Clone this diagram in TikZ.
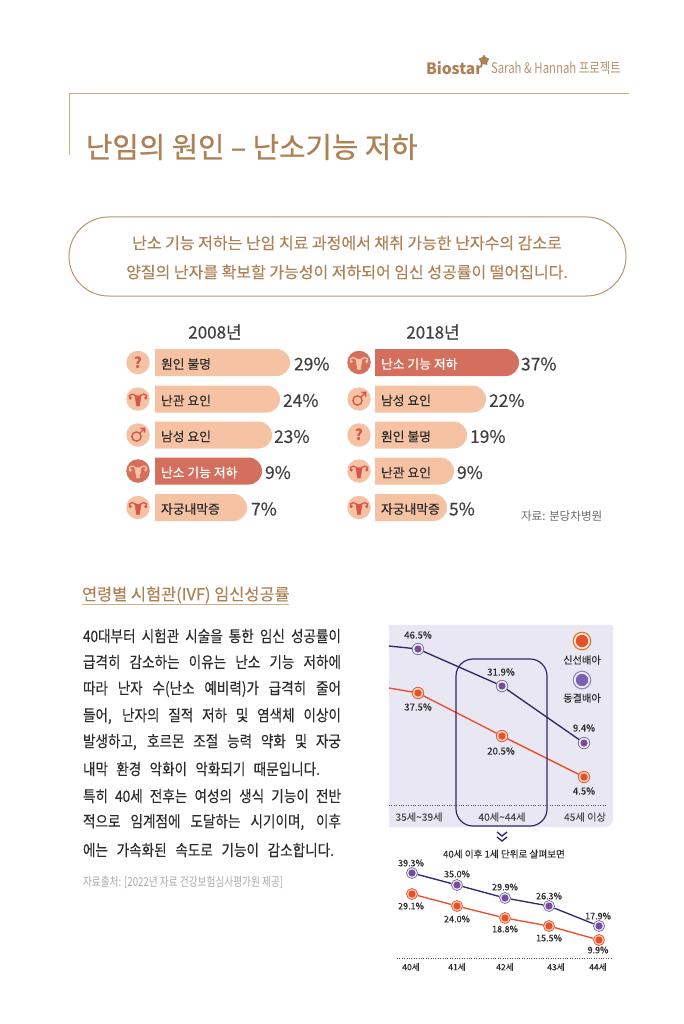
\documentclass[tikz,border=0pt]{standalone}
\usepackage{fontspec}
\setmainfont{Noto Sans CJK KR}
\newfontfamily\kmed[FakeBold=0.3]{Noto Sans CJK KR}
\newfontfamily\ktitle[FakeBold=0.7]{Noto Sans CJK KR}
\newfontfamily\kval[FakeBold=0.12]{Noto Sans CJK KR}
\newfontfamily\kcond[FakeStretch=0.78]{Noto Sans CJK KR}
\newfontfamily\kbody[FakeStretch=0.86,FakeBold=0.1]{Noto Sans CJK KR}
\usetikzlibrary{shapes.geometric}
\definecolor{gold}{HTML}{AD8154}
\definecolor{goldrule}{HTML}{C9AE86}
\definecolor{peach}{HTML}{F5C3A3}
\definecolor{redbar}{HTML}{D46F5E}
\definecolor{glyph}{HTML}{D9544A}
\definecolor{ink}{HTML}{2C2C2C}
\definecolor{pct}{HTML}{3F3F3F}
\definecolor{panel}{HTML}{E9E7F3}
\definecolor{navy}{HTML}{2E2A6B}
\definecolor{orng}{HTML}{E8502A}
\definecolor{purp}{HTML}{7B4A9E}
\definecolor{lgpurp}{HTML}{7B62B0}
\newcommand{\fs}[1]{\fontsize{#1}{#1}\selectfont}
\tikzset{
  x=1pt,y=-1pt,
  txt/.style={inner sep=0,outer sep=0,text=ink},
  barlabel/.style={txt,anchor=west,yshift=-1.5pt,font=\kmed\fs{12.8}},
  pctlabel/.style={txt,anchor=west,yshift=-1.5pt,text=pct,font=\kmed\fs{17.5}},
  iconbg/.style={circle,minimum size=23.5,inner sep=0,fill=peach},
  iconred/.style={circle,minimum size=23.5,inner sep=0,fill=redbar},
  val/.style={txt,font=\kval\fs{9.6}},
  valsm/.style={txt,font=\kval\fs{9}},
  axis/.style={txt,font=\kval\fs{10.2},text=ink!85},
  axisb/.style={txt,font=\kmed\fs{8.6}},
  body/.style={txt,anchor=west,font=\kbody\fs{15.8}},
  pm/.style={circle,minimum size=11.5,inner sep=0,draw=navy!70,line width=.7,fill=panel!70!white,
    path picture={\fill[purp] (path picture bounding box.center) circle (3.6);}},
  om/.style={circle,minimum size=11.5,inner sep=0,draw=orng,line width=.7,fill=peach!80!white,
    path picture={\fill[orng] (path picture bounding box.center) circle (3.6);}},
  pline/.style={navy,line width=1.35},
  oline/.style={orng,line width=1.35},
  dots/.style={ink!80,line width=.7,dash pattern=on .9pt off 1.5pt},
  uterus/.pic={
    \fill[pic actions] (-3.2,-3.5) -- (3.2,-3.5) .. controls (3.2,.5) and (1.6,2) .. (1.6,7) -- (-1.6,7) .. controls (-1.6,2) and (-3.2,.5) .. (-3.2,-3.5) -- cycle;
    \draw[pic actions,fill=none,line width=1.25] (-2,-3.2) .. controls (-4,-5.3) and (-7.5,-5.6) .. (-8.6,-3.6) .. controls (-9.2,-2.4) .. (-8,-.8);
    \draw[pic actions,fill=none,line width=1.25] (2,-3.2) .. controls (4,-5.3) and (7.5,-5.6) .. (8.6,-3.6) .. controls (9.2,-2.4) .. (8,-.8);
    \fill[pic actions] (-7.8,-1) circle (1.3) (7.8,-1) circle (1.3);
  },
  malesign/.pic={
    \draw[pic actions,fill=none,line width=1.4] (-1.5,1.5) circle (4.6);
    \draw[pic actions,fill=none,line width=1.4] (1.8,-1.8) -- (6.4,-6.4) (2.4,-6.6) -- (6.6,-6.6) -- (6.6,-2.4);
  }
}
% #1 name, #2 y centre, #3 x left, #4 x right, #5 fill
\newcommand{\barshape}[5]{\fill[#5] (#3,#2-13.5) -- (#4-13.5,#2-13.5) arc[start angle=90,end angle=-90,radius=13.5,x radius=13.5,y radius=-13.5] -- (#3,#2+13.5) -- cycle;
  \coordinate (#1) at (#3,#2);}
\begin{document}
\begin{tikzpicture}
\useasboundingbox[fill=white] (0,0) rectangle (683,1024);
% header
\node[txt,anchor=west,text=gold,font=\bfseries\fs{15.6}] (brand) at (426,68) {Biostar};
\node[star,star points=5,star point ratio=1.7,minimum size=12,inner sep=0,fill=gold,rounded corners=.8pt] (flower) at (484,60.5) {};
\node[txt,anchor=west,text=gold!85!white,font=\kcond\fs{14.6}] (proj) at (491,68) {Sarah \& Hannah 프로젝트};
\draw[goldrule,line width=1] (69,155) -- (69,94) -- (629,94);
\node[txt,anchor=west,text=gold,font=\ktitle\fs{28.7}] (title) at (86,147) {난임의 원인 – 난소기능 저하};
\draw[gold!85!white,line width=1] (108.5,217) -- (586.5,217) arc[start angle=90,end angle=-90,radius=39.5,y radius=-39.5] -- (108.5,296) arc[start angle=-90,end angle=-270,radius=39.5,y radius=-39.5] -- cycle;
\node[txt,text=gold,font=\kmed\fs{16}] (lead1) at (347,243) {난소 기능 저하는 난임 치료 과정에서 채취 가능한 난자수의 감소로};
\node[txt,text=gold,font=\kmed\fs{16}] (lead2) at (347,272) {양질의 난자를 확보할 가능성이 저하되어 임신 성공률이 떨어집니다.};
% 2008
\node[txt,text=pct,font=\kmed\fs{17}] (y08) at (215,332) {2008년};
\node[txt,text=pct,font=\kmed\fs{17}] (y18) at (433,332) {2018년};
\barshape{a1}{362.5}{155}{290}{peach}
\barshape{a2}{399}{155}{280}{peach}
\barshape{a3}{435}{155}{272}{peach}
\barshape{a4}{471}{155}{262}{redbar}
\barshape{a5}{507.5}{155}{247}{peach}
\node[barlabel] at (161,362.5) {원인 불명};
\node[barlabel] at (161,399) {난관 요인};
\node[barlabel] at (161,435) {남성 요인};
\node[barlabel,text=white] at (161,471) {난소 기능 저하};
\node[barlabel] at (161,507.5) {자궁내막증};
\node[pctlabel] at (294,362.5) {29\%};
\node[pctlabel] at (283,399) {24\%};
\node[pctlabel] at (274,435) {23\%};
\node[pctlabel] at (265,471) {9\%};
\node[pctlabel] at (251,507.5) {7\%};
\node[iconbg,text=glyph,font=\bfseries\fs{15}] (ia1) at (138,362.5) {?};
\node[iconbg] (ia2) at (138,399) {};
\pic[fill=glyph,draw=glyph] at (ia2) {uterus};
\node[iconbg] (ia3) at (138,435) {};
\pic[draw=glyph] at (ia3) {malesign};
\node[iconred] (ia4) at (138,471) {};
\pic[fill=peach,draw=peach] at (ia4) {uterus};
\node[iconbg] (ia5) at (138,507.5) {};
\pic[fill=glyph,draw=glyph] at (ia5) {uterus};
% 2018
\barshape{b1}{362.5}{375}{519}{redbar}
\barshape{b2}{399}{375}{486}{peach}
\barshape{b3}{435}{375}{467}{peach}
\barshape{b4}{471}{375}{454}{peach}
\barshape{b5}{507.5}{375}{447}{peach}
\node[barlabel,text=white] at (381,362.5) {난소 기능 저하};
\node[barlabel] at (381,399) {남성 요인};
\node[barlabel] at (381,435) {원인 불명};
\node[barlabel] at (381,471) {난관 요인};
\node[barlabel] at (381,507.5) {자궁내막증};
\node[pctlabel] at (521,362.5) {37\%};
\node[pctlabel] at (489,399) {22\%};
\node[pctlabel] at (470,435) {19\%};
\node[pctlabel] at (457,471) {9\%};
\node[pctlabel] at (449,507.5) {5\%};
\node[iconred] (ib1) at (359,362.5) {};
\pic[fill=peach,draw=peach] at (ib1) {uterus};
\node[iconbg] (ib2) at (359,399) {};
\pic[draw=glyph] at (ib2) {malesign};
\node[iconbg,text=glyph,font=\bfseries\fs{15}] (ib3) at (359,435) {?};
\node[iconbg] (ib4) at (359,471) {};
\pic[fill=glyph,draw=glyph] at (ib4) {uterus};
\node[iconbg] (ib5) at (359,507.5) {};
\pic[fill=glyph,draw=glyph] at (ib5) {uterus};
\node[txt,anchor=west,text=ink!70,font=\fs{11.6}] (src1) at (521,516) {자료: 분당차병원};
% section
\node[txt,anchor=west,text=gold,font=\kmed\fs{16.4}] (sec) at (82,595) {연령별 시험관(IVF) 임신성공률};
\draw[goldrule,line width=.9] (82,604.5) -- (289,604.5);
\node[body] at (83,636) {\makebox[258pt][s]{40대부터 시험관 시술을 통한 임신 성공률이}};
\node[body] at (83,662) {\makebox[258pt][s]{급격히 감소하는 이유는 난소 기능 저하에}};
\node[body] at (83,689) {\makebox[258pt][s]{따라 난자 수(난소 예비력)가 급격히 줄어}};
\node[body] at (83,716) {\makebox[258pt][s]{들어, 난자의 질적 저하 및 염색체 이상이}};
\node[body] at (83,742) {\makebox[258pt][s]{발생하고, 호르몬 조절 능력 약화 및 자궁}};
\node[body] at (83,769) {\makebox[237pt][s]{내막 환경 악화이 악화되기 때문입니다.}};
\node[body] at (83,796) {\makebox[258pt][s]{특히 40세 전후는 여성의 생식 기능이 전반}};
\node[body] at (83,822) {\makebox[258pt][s]{적으로 임계점에 도달하는 시기이며, 이후}};
\node[body] at (83,850) {\makebox[251pt][s]{에는 가속화된 속도로 기능이 감소합니다.}};
\node[txt,anchor=west,text=ink!40,font=\kcond\fs{12.4}] (src2) at (83,882) {자료출처: [2022년 자료 건강보험심사평가원 제공]};
% upper chart
\fill[panel] (389,625) -- (613,625) [rounded corners=8pt] -- (613,827) [sharp corners] -- (389,827) -- cycle;
\coordinate (pstart) at (389,646);
\coordinate (ostart) at (389,688);
\node[pm] (p1) at (418,649) {};
\node[pm] (p2) at (502,686) {};
\node[pm] (p3) at (584,743) {};
\node[om] (o1) at (418,693) {};
\node[om] (o2) at (502,736) {};
\node[om] (o3) at (584,777) {};
\draw[pline] (pstart) -- (p1) (p1) -- (p2) (p2) -- (p3);
\draw[oline] (ostart) -- (o1) (o1) -- (o2) (o2) -- (o3);
\coordinate (d1) at (389,805);
\coordinate (d2) at (607,805);
\draw[dots] (d1) -- (d2);
\draw[navy,line width=1.2,rounded corners=17pt] (456,659) rectangle (547,826);
\node[val] at (418,635) {46.5\%};
\node[val] at (418,707) {37.5\%};
\node[val] at (501,672) {31.9\%};
\node[val] at (501,751) {20.5\%};
\node[val] at (584,728) {9.4\%};
\node[val] at (584,791) {4.5\%};
\node[axis] at (419,817) {35세\textasciitilde 39세};
\node[axis] at (502,817) {40세\textasciitilde 44세};
\node[axis] at (585,817) {45세 이상};
\node[circle,minimum size=17.5,inner sep=0,draw=orange!85!red,line width=1.1,fill=panel!60!white,
  path picture={\fill[orng] (path picture bounding box.center) circle (6.2);}] (lg1) at (582,641) {};
\node[txt,font=\kmed\fs{10.2}] (lt1) at (582,660) {신선배아};
\node[circle,minimum size=17.5,inner sep=0,draw=lgpurp!80!white,line width=1.1,fill=panel!60!white,
  path picture={\fill[lgpurp] (path picture bounding box.center) circle (6.2);}] (lg2) at (582,680) {};
\node[txt,font=\kmed\fs{10.2}] (lt2) at (582,698) {동결배아};
% chevrons
\coordinate (cv) at (502,837);
\draw[navy,line width=1.4] ([shift={(-5,-5)}]cv) -- ([shift={(0,-1)}]cv) -- ([shift={(5,-5)}]cv);
\draw[navy,line width=1.4] ([shift={(-5,0)}]cv) -- ([shift={(0,4)}]cv) -- ([shift={(5,0)}]cv);
\node[txt,font=\kmed\fs{9.6}] (sub) at (504,854) {40세 이후 1세 단위로 살펴보면};
% lower chart
\node[pm,minimum size=11] (q1) at (412,873) {};
\node[pm,minimum size=11] (q2) at (457,885) {};
\node[pm,minimum size=11] (q3) at (505,898) {};
\node[pm,minimum size=11] (q4) at (549,906) {};
\node[pm,minimum size=11] (q5) at (599,926) {};
\node[om,minimum size=11] (r1) at (412,894) {};
\node[om,minimum size=11] (r2) at (457,906) {};
\node[om,minimum size=11] (r3) at (505,918) {};
\node[om,minimum size=11] (r4) at (549,926) {};
\node[om,minimum size=11] (r5) at (599,940) {};
\draw[pline] (q1) -- (q2) (q2) -- (q3) (q3) -- (q4) (q4) -- (q5);
\draw[oline] (r1) -- (r2) (r2) -- (r3) (r3) -- (r4) (r4) -- (r5);
\node[valsm] at (411,863) {39.3\%};
\node[valsm] at (457,874) {35.0\%};
\node[valsm] at (505,887) {29.9\%};
\node[valsm] at (549,896) {26.3\%};
\node[valsm] at (598,916) {17.9\%};
\node[valsm] at (411,906) {29.1\%};
\node[valsm] at (457,919) {24.0\%};
\node[valsm] at (505,929) {18.8\%};
\node[valsm] at (549,938) {15.5\%};
\node[valsm] at (598,950) {9.9\%};
\coordinate (e1) at (397,958);
\coordinate (e2) at (613,958);
\draw[dots] (e1) -- (e2);
\node[axisb] at (411,967) {40세};
\node[axisb] at (457,967) {41세};
\node[axisb] at (505,967) {42세};
\node[axisb] at (556,967) {43세};
\node[axisb] at (598,967) {44세};
\end{tikzpicture}
\end{document}
